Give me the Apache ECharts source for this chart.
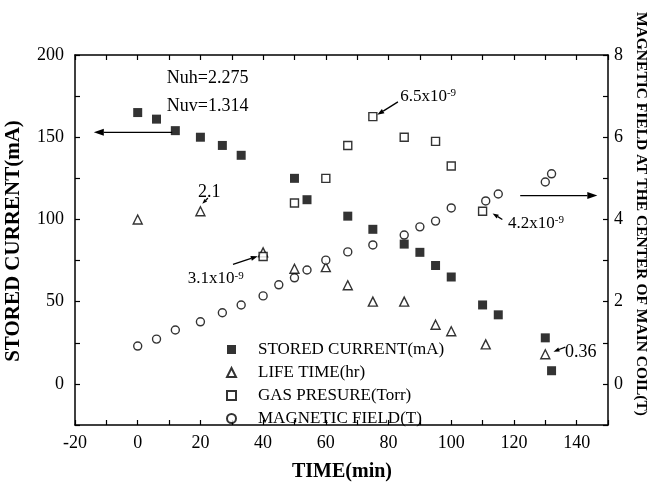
<!DOCTYPE html>
<html><head><meta charset="utf-8">
<script src="https://cdn.jsdelivr.net/npm/echarts@6/dist/echarts.min.js"></script>
<style>html,body{margin:0;padding:0;background:#fff}#c{width:648px;height:486px}</style>
</head><body><div id="c"></div>
<script>
// Stored current (mA), left axis
var timeCurrent = [0,6,12,20,27,33,50,54,67,75,85,90,95,100,110,115,130,132];
var current = [165,161,154,150,145,139,125,112,102,94,85,80,72,65,48,42,28,8];
// Life time, read on left axis scale
var timeLife = [0,20,40,50,60,67,75,85,95,100,111,130];
var life = [100,105,80,70,71,60,50,50,36,32,24,18];
// Gas pressure (x1e-9 Torr), right axis scale
var timeGas = [40,50,60,67,75,85,95,100,110];
var gas = [3.1,4.4,5.0,5.8,6.5,6.0,5.9,5.3,4.2];
// Magnetic field (T), right axis
var timeField = [0,6,12,20,27,33,40,45,50,54,60,67,75,85,90,95,100,111,115,130,132];
var field = [0.92,1.09,1.31,1.51,1.73,1.92,2.14,2.41,2.58,2.77,3.01,3.21,3.38,3.62,3.82,3.96,4.28,4.45,4.62,4.91,5.11];
var legendNames = ['STORED CURRENT(mA)','LIFE TIME(hr)','GAS PRESURE(Torr)','MAGNETIC FIELD(T)'];

function zip(a,b){return a.map(function(v,i){return [v,b[i]];});}
var FONT = '"Liberation Serif","Times New Roman",serif';
var chart = echarts.init(document.getElementById('c'), null, {renderer:'canvas'});
var axisLineStyle = {color:'#000', width:1.5};
var openStyle = {color:'#fff', borderColor:'#000', borderWidth:1.4};
chart.setOption({
  animation:false,
  backgroundColor:'#fff',
  grid:{left:75, right:40, top:55, bottom:61, show:false},
  xAxis:[{
    type:'value', min:-20, max:150, interval:10, position:'bottom',
    axisLine:{show:true, onZero:false, lineStyle:axisLineStyle},
    axisTick:{show:true, inside:true, length:5, lineStyle:{color:'#000', width:1.2}},
    axisLabel:{color:'#000', fontFamily:FONT, fontSize:18, margin:9,
      formatter:function(v){return (v%20===0 && v<150)? String(v):'';}},
    splitLine:{show:false}
  },{
    type:'value', min:-20, max:150, interval:10, position:'top',
    axisLine:{show:true, onZero:false, lineStyle:axisLineStyle},
    axisTick:{show:true, inside:true, length:5, lineStyle:{color:'#000', width:1.2}},
    axisLabel:{show:false}, splitLine:{show:false}
  }],
  yAxis:[{
    type:'value', min:-25, max:200, interval:25, position:'left',
    axisLine:{show:true, onZero:false, lineStyle:axisLineStyle},
    axisTick:{show:true, inside:true, length:5, lineStyle:{color:'#000', width:1.2}},
    axisLabel:{color:'#000', fontFamily:FONT, fontSize:18, margin:11,
      formatter:function(v){return (v%50===0)? String(v):'';}},
    splitLine:{show:false}
  },{
    type:'value', min:-1, max:8, interval:1, position:'right',
    axisLine:{show:true, onZero:false, lineStyle:axisLineStyle},
    axisTick:{show:true, inside:true, length:5, lineStyle:{color:'#000', width:1.2}},
    axisLabel:{color:'#000', fontFamily:FONT, fontSize:18, margin:6,
      formatter:function(v){return (v%2===0)? String(v):'';}},
    splitLine:{show:false}
  }],
  legend:{
    orient:'vertical', left:221, top:336, itemGap:6, itemWidth:9, itemHeight:9,
    data:legendNames.map(function(n,i){return {name:n, icon:['rect','triangle','rect','circle'][i]};}),
    textStyle:{color:'#000', fontFamily:FONT, fontSize:17, padding:[0,0,0,17]},
    selectedMode:false
  },
  series:[
    {name:legendNames[0], type:'scatter', xAxisIndex:0, yAxisIndex:0, symbol:'rect', symbolSize:9,
     itemStyle:{color:'#000'}, data:zip(timeCurrent,current), z:3},
    {name:legendNames[1], type:'scatter', xAxisIndex:0, yAxisIndex:0, symbol:'triangle', symbolSize:9,
     itemStyle:openStyle, data:zip(timeLife,life), z:2},
    {name:legendNames[2], type:'scatter', xAxisIndex:0, yAxisIndex:1, symbol:'rect', symbolSize:8,
     itemStyle:openStyle, data:zip(timeGas,gas), z:2},
    {name:legendNames[3], type:'scatter', xAxisIndex:0, yAxisIndex:1, symbol:'circle', symbolSize:8,
     itemStyle:openStyle, data:zip(timeField,field), z:2}
  ]
});

function P(x,y){return chart.convertToPixel({xAxisIndex:0,yAxisIndex:0},[x,y]);}
var g = [];
function arrow(from, to, head){
  var a = P(from[0],from[1]), b = P(to[0],to[1]);
  var dx=b[0]-a[0], dy=b[1]-a[1], L=Math.sqrt(dx*dx+dy*dy), ux=dx/L, uy=dy/L;
  var hl=head||8, hw=hl*0.35;
  var bx=b[0]-ux*hl, by=b[1]-uy*hl;
  g.push({type:'line', shape:{x1:a[0],y1:a[1],x2:bx,y2:by}, style:{stroke:'#000', lineWidth:1.3}, z:10});
  g.push({type:'polygon', shape:{points:[[b[0],b[1]],[bx-uy*hw,by+ux*hw],[bx+uy*hw,by-ux*hw]]}, style:{fill:'#000'}, z:10});
}
function txt(x,y,s,size,sup){
  var p=P(x,y);
  var t = sup ? '{a|'+s+'}{s|'+sup+'}' : s;
  g.push({type:'text', x:p[0], y:p[1], z:10, style:{text:t, fill:'#000', font:size+'px '+FONT,
    verticalAlign:'middle', align:'left',
    rich:{a:{fontSize:size, fontFamily:FONT, fill:'#000'}, s:{fontSize:11, fontFamily:FONT, fill:'#000', verticalAlign:'top'}}}});
}
txt(9.3,186,'Nuh=2.275',18);
txt(9.3,169,'Nuv=1.314',18);
txt(19.2,116.5,'2.1',18);
txt(83.7,175,'6.5x10',17,'-9');
txt(16,64,'3.1x10',17,'-9');
txt(118.1,97.5,'4.2x10',17,'-9');
txt(136.3,19.4,'0.36',18);
arrow([11,153],[-14,153],10);
arrow([122,114.5],[146.6,114.5],10);
arrow([83,171.5],[76.4,163.6],7);
arrow([30.4,72.7],[38.3,77.6],7);
arrow([116.3,100],[113.2,103.6],6);
arrow([136.4,22.4],[132.6,19.6],6);
arrow([22.4,113],[20.6,109.5],5);

// axis titles
g.push({type:'text', x:14, y:241, rotation:Math.PI/2, z:10,
  style:{text:'STORED CURRENT(mA)', fill:'#000', font:'bold 21px '+FONT, align:'center', verticalAlign:'middle'}});
g.push({type:'text', x:342, y:472, z:10,
  style:{text:'TIME(min)', fill:'#000', font:'bold 20px '+FONT, align:'center', verticalAlign:'middle'}});
g.push({type:'text', x:641, y:214, rotation:-Math.PI/2, z:10,
  style:{text:'MAGNETIC FIELD AT THE CENTER OF MAIN COIL(T)', fill:'#000', font:'bold 15.5px '+FONT, align:'center', verticalAlign:'middle'}});
chart.setOption({graphic:g});
</script></body></html>
